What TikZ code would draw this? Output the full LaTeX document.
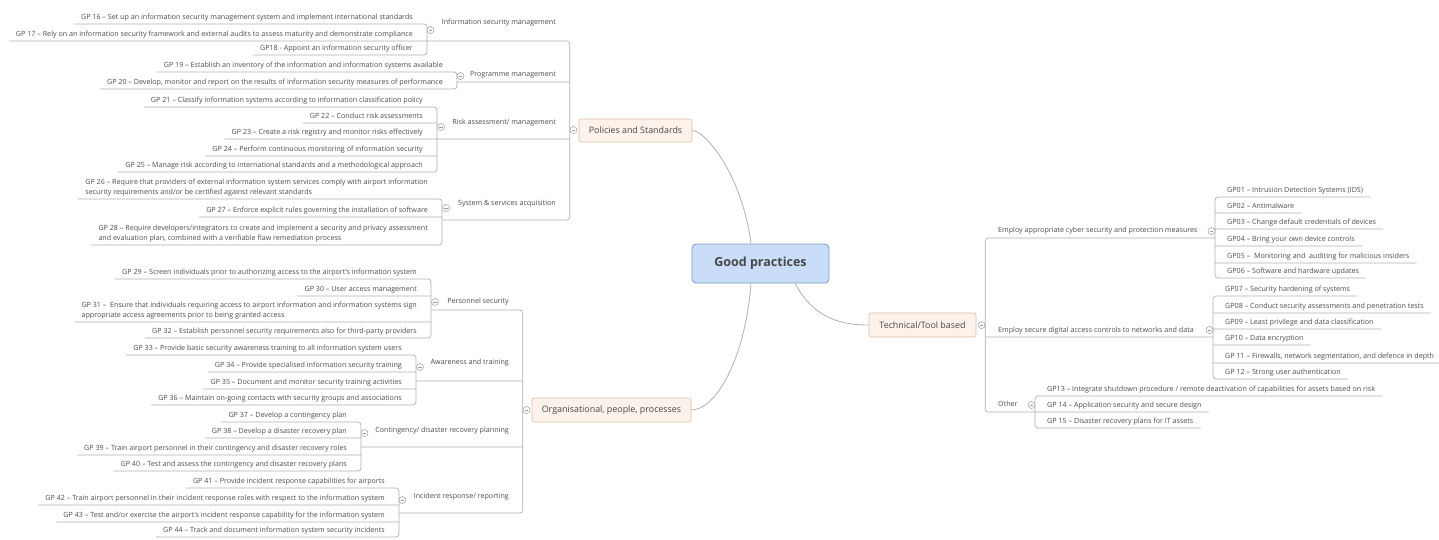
\documentclass[tikz,border=0pt]{standalone}
\usepackage{fontspec}
\setmainfont{Open Sans}
\definecolor{linegray}{HTML}{B0B0B0}
\definecolor{textgray}{HTML}{4D4D4D}
\definecolor{foldgray}{HTML}{9A9A9A}
\definecolor{topicfill}{HTML}{FDF2E9}
\definecolor{topicline}{HTML}{D8BFAA}
\definecolor{rootfill}{HTML}{C9DCF8}
\definecolor{rootline}{HTML}{7E9CCB}
\definecolor{roottext}{HTML}{474747}
\tikzset{
  leaf/.style={font=\fontsize{7.15pt}{10pt}\selectfont, text=textgray, inner xsep=7pt, inner ysep=3pt, text depth=1.5pt, align=left},
  leafl/.style={leaf, anchor=south east},
  leafr/.style={leaf, anchor=south west},
  sub/.style={font=\fontsize{7.15pt}{8.5pt}\selectfont, text=textgray, inner sep=0pt, text height=5pt, text depth=1.4pt},
  conn/.style={draw=linegray, line width=0.7pt, rounded corners=3pt},
  curve/.style={draw=linegray, line width=0.8pt},
  fold/.style={circle, draw=foldgray, fill=white, minimum size=7pt, inner sep=0pt, line width=0.5pt,
    path picture={\draw[foldgray, line width=0.5pt] ([xshift=1.8pt]path picture bounding box.west) -- ([xshift=-1.8pt]path picture bounding box.east);}},
  topic/.style={draw=topicline, fill=topicfill, rounded corners=2pt, line width=0.6pt, text=roottext, font=\fontsize{8.9pt}{11pt}\selectfont},
  root/.style={draw=rootline, fill=rootfill, rounded corners=4pt, line width=0.8pt, text=roottext, font=\fontsize{12.5pt}{14pt}\selectfont\bfseries, minimum width=137pt, minimum height=39pt}
}
\begin{document}
\begin{tikzpicture}[x=1pt,y=-1pt]
  \path[use as bounding box, fill=white] (0,0) rectangle (1439,539);

  \node[root] (gp) at (760.5,263.5) {Good practices};
  \node[topic, minimum width=113pt, minimum height=23pt] (pol) at (635.5,130.5) {Policies and Standards};
  \node[topic, minimum width=159pt, minimum height=24pt] (org) at (611.5,410) {Organisational, people, processes};
  \node[topic, minimum width=107pt, minimum height=24pt] (tec) at (922.5,325) {Technical/Tool based};
  \draw[curve] ([xshift=-9.5pt]gp.north) .. controls +(-9,-69) and +(13,0) .. (pol.east);
  \draw[curve] ([xshift=-9.5pt]gp.south) .. controls +(-6,77) and +(24,0) .. (org.east);
  \draw[curve] ([xshift=34.5pt]gp.south) .. controls +(15,27) and +(-39,0) .. (tec.west);

  \node[sub, anchor=east] (ism) at (556,23) {Information security management};
  \node[sub, anchor=east] (pro) at (556,75) {Programme management};
  \node[sub, anchor=east] (ris) at (556,123) {Risk assessment/ management};
  \node[sub, anchor=east] (sys) at (556,204) {System \& services acquisition};
  \coordinate (ism-u) at (427,41);
  \coordinate (pro-u) at (457,82);
  \coordinate (ris-u) at (437,139);
  \coordinate (sys-u) at (442,220);

  \node[leafl] (g16) at (420,24) {GP 16 – Set up an information security management system and implement international standards};
  \node[leafl] (g17) at (420,41) {GP 17 – Rely on an information security framework and external audits to assess maturity and demonstrate compliance};
  \node[leafl] (g18) at (420,55) {GP18 - Appoint an information security officer};
  \node[leafl] (g19) at (450,72) {GP 19 – Establish an inventory of the information and information systems available};
  \node[leafl] (g20) at (450,89) {GP 20 – Develop, monitor and report on the results of information security measures of performance};
  \node[leafl] (g21) at (430,107) {GP 21 – Classify information systems according to information classification policy};
  \node[leafl] (g22) at (430,123) {GP 22 – Conduct risk assessments};
  \node[leafl] (g23) at (430,139) {GP 23 – Create a risk registry and monitor risks effectively};
  \node[leafl] (g24) at (430,156) {GP 24 – Perform continuous monitoring of information security};
  \node[leafl] (g25) at (430,172) {GP 25 – Manage risk according to international standards and a methodological approach};
  \node[leafl] (g26) at (435,199) {GP 26 – Require that providers of external information system services comply with airport information\\security requirements and/or be certified against relevant standards};
  \node[leafl] (g27) at (435,217) {GP 27 – Enforce explicit rules governing the installation of software};
  \node[leafl] (g28) at (435,245) {GP 28 – Require developers/integrators to create and implement a security and privacy assessment\\and evaluation plan, combined with a verifiable flaw remediation process};

  \draw[conn] (g16.south west) -- (g16.south -| ism-u) -- (g18.south -| ism-u) -- (g18.south west)
    (g17.south west) -- (g17.south -| ism-u);
  \draw[conn] (g19.south west) -- (g19.south -| pro-u) -- (g20.south -| pro-u) -- (g20.south west);
  \draw[conn] (g21.south west) -- (g21.south -| ris-u) -- (g25.south -| ris-u) -- (g25.south west)
    (g22.south west) -- (g22.south -| ris-u)
    (g23.south west) -- (g23.south -| ris-u)
    (g24.south west) -- (g24.south -| ris-u);
  \draw[conn] (g26.south west) -- (g26.south -| sys-u) -- (g28.south -| sys-u) -- (g28.south west)
    (g27.south west) -- (g27.south -| sys-u);
  \node[fold] (f-pol) at (573.5,130) {};
  \draw[conn] (ism-u) -- (ism-u -| f-pol.west) -- (sys-u -| f-pol.west) -- (sys-u)
    (pro-u) -- (pro-u -| f-pol.west)
    (ris-u) -- (ris-u -| f-pol.west);
  \node[fold] (f-ism) at (430.5,30) {};
  \node[fold] (f-pro) at (460.5,76) {};
  \node[fold] (f-ris) at (441,127) {};
  \node[fold] (f-sys) at (446,208) {};

  \node[sub, anchor=east] (per) at (509,302) {Personnel security};
  \node[sub, anchor=east] (awa) at (509,363) {Awareness and training};
  \node[sub, anchor=east] (con) at (509,431) {Contingency/ disaster recovery planning};
  \node[sub, anchor=east] (inc) at (509,497) {Incident response/ reporting};
  \coordinate (per-u) at (431,310);
  \coordinate (awa-u) at (416,381);
  \coordinate (con-u) at (361,447);
  \coordinate (inc-u) at (399,513);

  \node[leafl] (g29) at (424,279) {GP 29 – Screen individuals prior to authorizing access to the airport's information system};
  \node[leafl] (g30) at (424,296) {GP 30 – User access management};
  \node[leafl] (g31) at (424,322) {GP 31 – \ Ensure that individuals requiring access to airport information and information systems sign\\appropriate access agreements prior to being granted access};
  \node[leafl] (g32) at (424,338) {GP 32 – Establish personnel security requirements also for third-party providers};
  \node[leafl] (g33) at (409,355) {GP 33 – Provide basic security awareness training to all information system users};
  \node[leafl] (g34) at (409,372) {GP 34 – Provide specialised information security training};
  \node[leafl] (g35) at (409,389) {GP 35 – Document and monitor security training activities};
  \node[leafl] (g36) at (409,405) {GP 36 – Maintain on-going contacts with security groups and associations};
  \node[leafl] (g37) at (354,422) {GP 37 – Develop a contingency plan};
  \node[leafl] (g38) at (354,438) {GP 38 – Develop a disaster recovery plan};
  \node[leafl] (g39) at (354,455) {GP 39 – Train airport personnel in their contingency and disaster recovery roles};
  \node[leafl] (g40) at (354,471) {GP 40 – Test and assess the contingency and disaster recovery plans};
  \node[leafl] (g41) at (392,488) {GP 41 – Provide incident response capabilities for airports};
  \node[leafl] (g42) at (392,505) {GP 42 – Train airport personnel in their incident response roles with respect to the information system};
  \node[leafl] (g43) at (392,522) {GP 43 – Test and/or exercise the airport's incident response capability for the information system};
  \node[leafl] (g44) at (392,537) {GP 44 – Track and document information system security incidents};

  \draw[conn] (g29.south west) -- (g29.south -| per-u) -- (g32.south -| per-u) -- (g32.south west)
    (g30.south west) -- (g30.south -| per-u)
    (g31.south west) -- (g31.south -| per-u);
  \draw[conn] (g33.south west) -- (g33.south -| awa-u) -- (g36.south -| awa-u) -- (g36.south west)
    (g34.south west) -- (g34.south -| awa-u)
    (g35.south west) -- (g35.south -| awa-u);
  \draw[conn] (g37.south west) -- (g37.south -| con-u) -- (g40.south -| con-u) -- (g40.south west)
    (g38.south west) -- (g38.south -| con-u)
    (g39.south west) -- (g39.south -| con-u);
  \draw[conn] (g41.south west) -- (g41.south -| inc-u) -- (g44.south -| inc-u) -- (g44.south west)
    (g42.south west) -- (g42.south -| inc-u)
    (g43.south west) -- (g43.south -| inc-u);
  \node[fold] (f-org) at (526.5,410) {};
  \draw[conn] (per-u) -- (per-u -| f-org.west) -- (inc-u -| f-org.west) -- (inc-u)
    (awa-u) -- (awa-u -| f-org.west)
    (con-u) -- (con-u -| f-org.west);
  \node[fold] (f-per) at (435,302) {};
  \node[fold] (f-awa) at (420,367) {};
  \node[fold] (f-con) at (364.5,433) {};
  \node[fold] (f-inc) at (402.5,500) {};

  \node[sub, anchor=west] (app) at (998,231) {Employ appropriate cyber security and protection measures};
  \node[sub, anchor=west] (dig) at (998,331) {Employ secure digital access controls to networks and data};
  \node[sub, anchor=west] (oth) at (998,405) {Other};
  \coordinate (app-u) at (1215,238);
  \coordinate (dig-u) at (1213,337);
  \coordinate (oth-u) at (1035,412);

  \node[leafr] (g01) at (1220,197) {GP01 – Intrusion Detection Systems (IDS)};
  \node[leafr] (g02) at (1220,213) {GP02 – Antimalware};
  \node[leafr] (g03) at (1220,229) {GP03 – Change default credentials of devices};
  \node[leafr] (g04) at (1220,246) {GP04 – Bring your own device controls};
  \node[leafr] (g05) at (1220,263) {GP05 – \ Monitoring and \ auditing for malicious insiders};
  \node[leafr] (g06) at (1220,278) {GP06 – Software and hardware updates};
  \node[leafr] (g07) at (1218,296) {GP07 – Security hardening of systems};
  \node[leafr] (g08) at (1218,313) {GP08 – Conduct security assessments and penetration tests};
  \node[leafr] (g09) at (1218,329) {GP09 – Least privilege and data classification};
  \node[leafr] (g10) at (1218,345) {GP10 – Data encryption};
  \node[leafr] (g11) at (1218,363) {GP 11 – Firewalls, network segmentation, and defence in depth};
  \node[leafr] (g12) at (1218,379) {GP 12 – Strong user authentication};
  \node[leafr] (g13) at (1040,396) {GP13 – Integrate shutdown procedure / remote deactivation of capabilities for assets based on risk};
  \node[leafr] (g14) at (1040,412) {GP 14 – Application security and secure design};
  \node[leafr] (g15) at (1040,428) {GP 15 – Disaster recovery plans for IT assets};

  \draw[conn] (g01.south east) -- (g01.south -| app-u) -- (g06.south -| app-u) -- (g06.south east)
    (g02.south -| app-u) -- (g02.south east)
    (g03.south -| app-u) -- (g03.south east)
    (g04.south -| app-u) -- (g04.south east)
    (g05.south -| app-u) -- (g05.south east);
  \draw[conn] (g07.south east) -- (g07.south -| dig-u) -- (g12.south -| dig-u) -- (g12.south east)
    (g08.south -| dig-u) -- (g08.south east)
    (g09.south -| dig-u) -- (g09.south east)
    (g10.south -| dig-u) -- (g10.south east)
    (g11.south -| dig-u) -- (g11.south east);
  \draw[conn] (g13.south east) -- (g13.south -| oth-u) -- (g15.south -| oth-u) -- (g15.south east)
    (g14.south -| oth-u) -- (g14.south east);
  \node[fold] (f-tec) at (981.5,325) {};
  \draw[conn] (app-u) -- (app-u -| f-tec.east) -- (oth-u -| f-tec.east) -- (oth-u)
    (dig-u) -- (dig-u -| f-tec.east);
  \node[fold] (f-app) at (1211.5,231) {};
  \node[fold] (f-dig) at (1209.5,330) {};
  \node[fold] (f-oth) at (1031.5,405) {};
\end{tikzpicture}
\end{document}
